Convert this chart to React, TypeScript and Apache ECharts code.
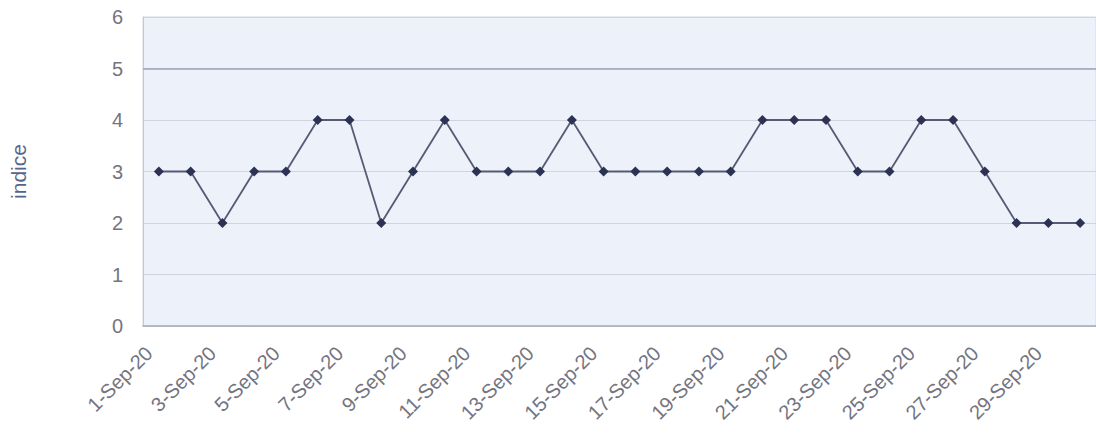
import React, { useEffect, useRef } from "react";
import * as echarts from "echarts";

const days: string[] = Array.from({ length: 30 }, (_, i) => `${i + 1}-Sep-20`);
const indice: number[] = [3, 3, 2, 3, 3, 4, 4, 2, 3, 4, 3, 3, 3, 4, 3, 3, 3, 3, 3, 4, 4, 4, 3, 3, 4, 4, 3, 2, 2, 2];
const yTicks = { min: 0, max: 6, interval: 1 };
const refLevel = 5;

const FONT = "Liberation Sans, Arial, sans-serif";

export default function App() {
  const ref = useRef<HTMLDivElement>(null);
  useEffect(() => {
    document.body.style.margin = "0";
    const chart = echarts.init(ref.current!, null, { renderer: "svg" });
    chart.setOption({
      animation: false,
      backgroundColor: "#ffffff",
      grid: {
        left: 141,
        width: 958,
        top: 17,
        bottom: 114,
        show: true,
        backgroundColor: "#edf1f9",
        borderColor: "#d4d8e4",
        borderWidth: 1,
      },
      xAxis: {
        type: "category",
        data: days,
        boundaryGap: true,
        axisLine: { show: true, lineStyle: { color: "#a8acb8", width: 1.5 } },
        axisTick: { show: false },
        axisLabel: {
          interval: 1,
          rotate: 45,
          margin: 14,
          padding: [0, 14, 0, 0],
          color: "#747480",
          fontSize: 20,
          fontFamily: FONT,
        },
        splitLine: { show: false },
      },
      yAxis: {
        type: "value",
        min: yTicks.min,
        max: yTicks.max,
        interval: yTicks.interval,
        name: "indice",
        nameLocation: "middle",
        nameGap: 114,
        nameTextStyle: {
          color: "#56658c",
          fontSize: 21,
          fontFamily: FONT,
        },
        axisLine: { show: true, lineStyle: { color: "#c4c8d4" } },
        axisTick: { show: false },
        axisLabel: {
          margin: 20,
          color: "#747480",
          fontSize: 20,
          fontFamily: FONT,
        },
        splitLine: { show: true, lineStyle: { color: "#d0d4e0", width: 1 } },
      },
      series: [
        {
          type: "line",
          data: indice,
          symbol: "diamond",
          symbolSize: 10,
          lineStyle: { color: "#565a74", width: 1.8 },
          itemStyle: { color: "#2c3254" },
          markLine: {
            silent: true,
            symbol: "none",
            label: { show: false },
            lineStyle: { color: "#9ca2b8", width: 1.5, type: "solid" },
            data: [{ yAxis: refLevel }],
          },
        },
      ],
    });
    return () => chart.dispose();
  }, []);
  return <div ref={ref} style={{ width: 1096, height: 440 }} />;
}
